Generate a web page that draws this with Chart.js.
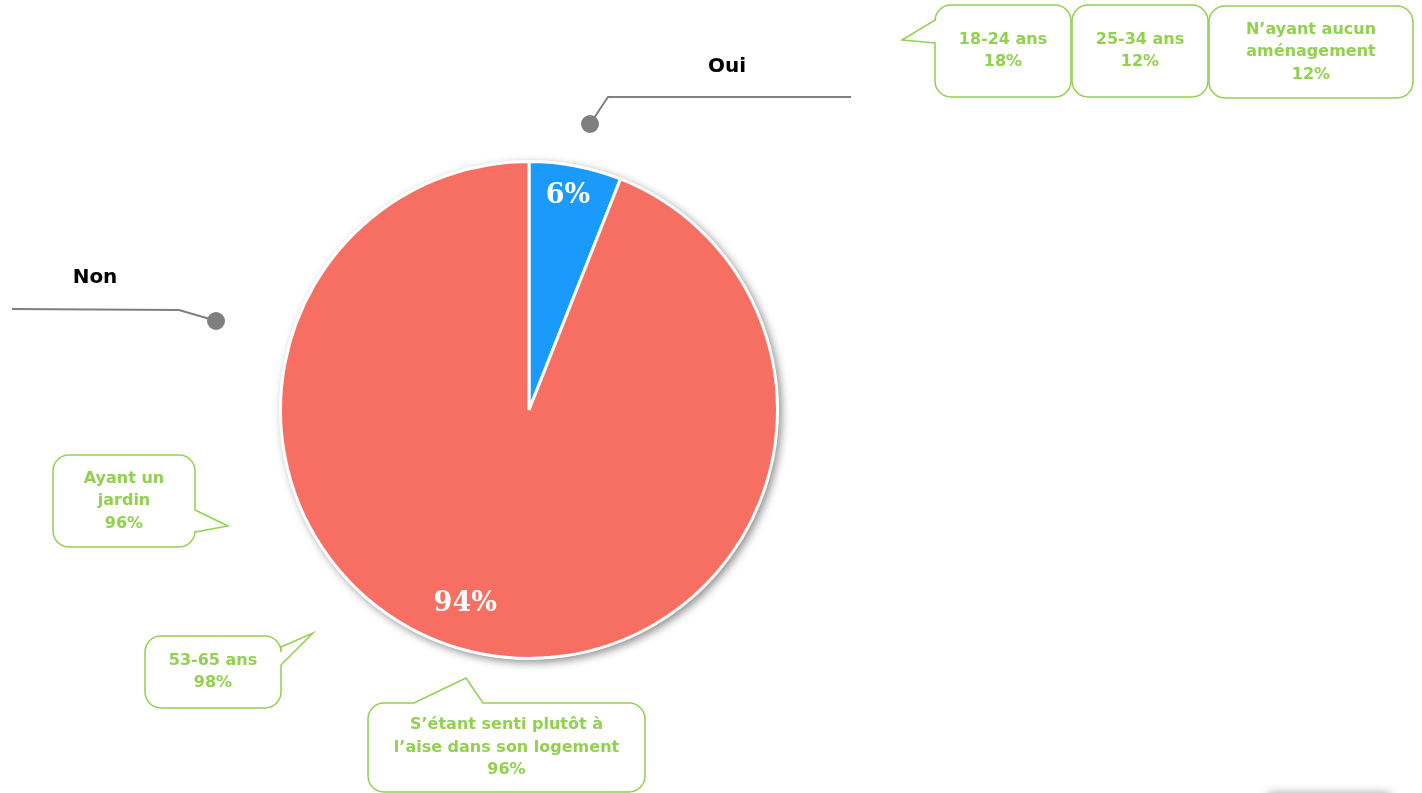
<!DOCTYPE html>
<html>
<head>
<meta charset="utf-8">
<script src="https://cdn.jsdelivr.net/npm/chart.js@4"></script>
<style>
  body { margin: 0; background: #fff; }
  canvas { display: block; }
</style>
</head>
<body>
<canvas id="myChart" width="1422" height="793"></canvas>
<script>
// donnees
const categories = ['Oui', 'Non']
const values = [6, 94]
const calloutTexts = [
  ['18-24 ans', '18%'],
  ['25-34 ans', '12%'],
  ['N\u2019ayant aucun', 'aménagement', '12%'],
  ['Ayant un', 'jardin', '96%'],
  ['53-65 ans', '98%'],
  ['S\u2019étant senti plutôt à', 'l\u2019aise dans son logement', '96%']
]

const colors = ['#1a9bfc', '#f76f63']
const green = '#92d050'
const grey = '#7f7f7f'

// boites (x, y, w, h) et pointe (a = join 1, t = tip, b = join 2)
const boxes = [
  { x: 935, y: 5, w: 136, h: 92, side: 'left', a: 20, t: [902, 40], b: 43 },
  { x: 1072, y: 5, w: 136, h: 92 },
  { x: 1209, y: 6, w: 204, h: 92 },
  { x: 53, y: 455, w: 142, h: 92, side: 'right', a: 510, t: [228, 526], b: 532 },
  { x: 145, y: 636, w: 136, h: 72, side: 'right', a: 647, t: [313, 633], b: 665 },
  { x: 368, y: 703, w: 277, h: 89, side: 'top', a: 414, t: [466, 678], b: 483 }
]

const leaders = [
  { label: [727, 67], pts: [[851, 97], [608, 97], [594, 118]], dot: [590, 124] },
  { label: [95, 278], pts: [[12, 309], [179, 310], [210, 319]], dot: [216, 321] }
]

const roundRectPath = (ctx, b) => {
  const r = 16
  const { x, y, w, h } = b
  ctx.beginPath()
  ctx.moveTo(x + r, y)
  if (b.side === 'top') {
    ctx.lineTo(b.a, y); ctx.lineTo(b.t[0], b.t[1]); ctx.lineTo(b.b, y)
  }
  ctx.lineTo(x + w - r, y)
  ctx.arcTo(x + w, y, x + w, y + r, r)
  if (b.side === 'right') {
    ctx.lineTo(x + w, b.a); ctx.lineTo(b.t[0], b.t[1]); ctx.lineTo(x + w, b.b)
  }
  ctx.lineTo(x + w, y + h - r)
  ctx.arcTo(x + w, y + h, x + w - r, y + h, r)
  ctx.lineTo(x + r, y + h)
  ctx.arcTo(x, y + h, x, y + h - r, r)
  if (b.side === 'left') {
    ctx.lineTo(x, b.b); ctx.lineTo(b.t[0], b.t[1]); ctx.lineTo(x, b.a)
  }
  ctx.lineTo(x, y + r)
  ctx.arcTo(x, y, x + r, y, r)
  ctx.closePath()
}

const pieShadow = {
  id: 'pieShadow',
  beforeDatasetsDraw(chart) {
    const arc = chart.getDatasetMeta(0).data[0]
    const ctx = chart.ctx
    ctx.save()
    ctx.shadowColor = 'rgba(0,0,0,0.45)'
    ctx.shadowBlur = 9
    ctx.shadowOffsetX = 3
    ctx.shadowOffsetY = 3
    ctx.fillStyle = '#fff'
    ctx.beginPath()
    ctx.arc(arc.x, arc.y, arc.outerRadius + 1, 0, Math.PI * 2)
    ctx.fill()
    ctx.restore()
  }
}

const annotations = {
  id: 'annotations',
  afterDraw(chart) {
    const ctx = chart.ctx
    const meta = chart.getDatasetMeta(0)
    const total = values.reduce((a, b) => a + b, 0)

    // pourcentages dans les parts
    ctx.save()
    ctx.fillStyle = '#fff'
    ctx.font = 'bold 27px "DejaVu Serif", "Liberation Serif", serif'
    ctx.textAlign = 'center'
    ctx.textBaseline = 'middle'
    meta.data.forEach((arc, i) => {
      const mid = (arc.startAngle + arc.endAngle) / 2
      const f = i === 0 ? 0.88 : 0.79
      const px = arc.x + Math.cos(mid) * arc.outerRadius * f
      const py = arc.y + Math.sin(mid) * arc.outerRadius * f
      ctx.fillText(Math.round(values[i] / total * 100) + '%', i === 0 ? px - 2 : px - 27, py + 1)
    })
    ctx.restore()

    // etiquettes Oui / Non
    ctx.save()
    ctx.strokeStyle = grey
    ctx.fillStyle = grey
    ctx.lineWidth = 2
    leaders.forEach((l, i) => {
      ctx.beginPath()
      l.pts.forEach((p, j) => j ? ctx.lineTo(p[0], p[1]) : ctx.moveTo(p[0], p[1]))
      ctx.stroke()
      ctx.beginPath()
      ctx.arc(l.dot[0], l.dot[1], 9, 0, Math.PI * 2)
      ctx.fill()
    })
    ctx.fillStyle = '#000'
    ctx.font = 'bold 20px "DejaVu Sans", sans-serif'
    ctx.textAlign = 'center'
    ctx.textBaseline = 'middle'
    leaders.forEach((l, i) => ctx.fillText(categories[i], l.label[0], l.label[1]))
    ctx.restore()

    // bulles vertes
    ctx.save()
    ctx.strokeStyle = green
    ctx.lineWidth = 1.5
    ctx.fillStyle = green
    ctx.font = 'bold 16px "DejaVu Sans", sans-serif'
    ctx.textAlign = 'center'
    ctx.textBaseline = 'middle'
    boxes.forEach((b, i) => {
      roundRectPath(ctx, b)
      ctx.stroke()
      const lines = calloutTexts[i]
      const cy = b.y + b.h / 2
      lines.forEach((t, j) => {
        ctx.fillText(t, b.x + b.w / 2, cy + (j - (lines.length - 1) / 2) * 22.5)
      })
    })
    ctx.restore()

    // ombre en bas a droite
    ctx.save()
    ctx.shadowColor = 'rgba(0,0,0,0.35)'
    ctx.shadowBlur = 10
    ctx.shadowOffsetY = -2
    ctx.fillStyle = '#fff'
    ctx.fillRect(1268, 795, 122, 30)
    ctx.restore()
  }
}

new Chart(document.getElementById('myChart'), {
  type: 'pie',
  data: {
    labels: categories,
    datasets: [{
      data: values,
      backgroundColor: colors,
      borderColor: '#fff',
      borderWidth: 3
    }]
  },
  options: {
    responsive: false,
    animation: false,
    layout: { padding: { left: 279, right: 643, top: 160, bottom: 133 } },
    plugins: { legend: { display: false }, tooltip: { enabled: false } }
  },
  plugins: [pieShadow, annotations]
})
</script>
</body>
</html>
